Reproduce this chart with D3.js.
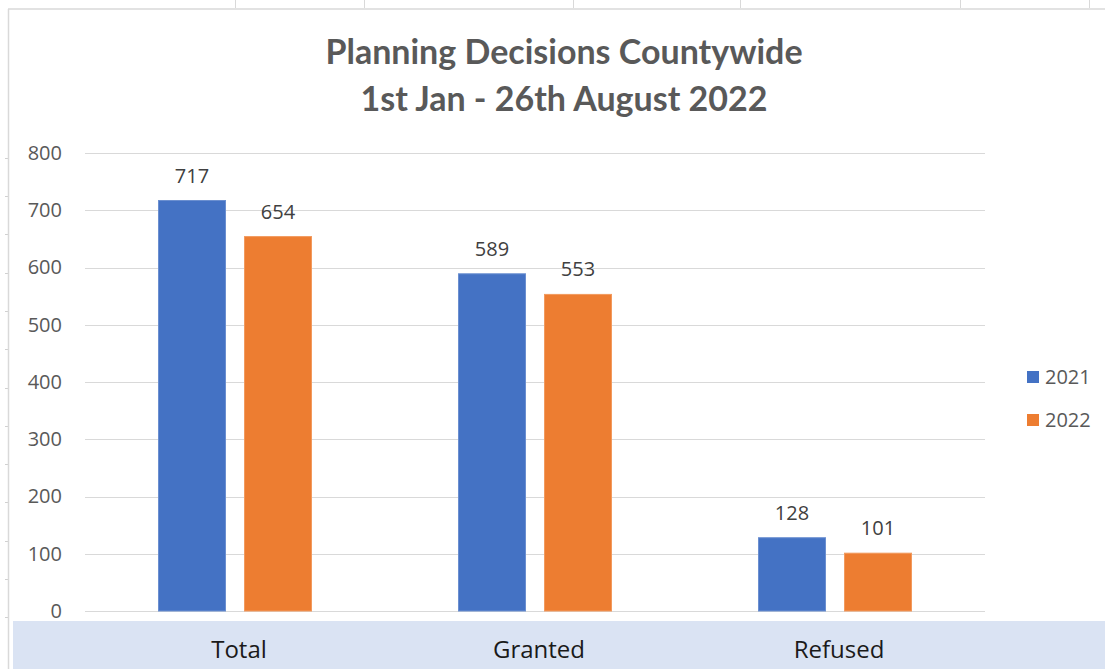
<!DOCTYPE html>
<html>
<head>
<meta charset="utf-8">
<script src="https://cdn.jsdelivr.net/npm/d3@7"></script>
<style>
  html, body { margin: 0; padding: 0; background: #fff; }
  svg { display: block; }
</style>
</head>
<body>
<svg id="chart" width="1105" height="669"></svg>
<script>
const categories = ["Total", "Granted", "Refused"];
const seriesNames = ["2021", "2022"];
const values2021 = [717, 589, 128];
const values2022 = [654, 553, 101];
const yTicks = [0, 100, 200, 300, 400, 500, 600, 700, 800];
const titleLines = ["Planning Decisions Countywide", "1st Jan - 26th August 2022"];

const colors = ["#4472C4", "#ED7D31"];
const strokes = ["#6b8fd0", "#f29a5e"];
const font = "'Open Sans', 'Liberation Sans', sans-serif";
const titleFont = "Lato, 'Open Sans', sans-serif";

const svg = d3.select("#chart");
const W = 1105, H = 669;

// spreadsheet background artifacts
const colMarks = [235, 364, 573, 740, 960, 1089];
svg.selectAll("line.colmark").data(colMarks).join("line")
  .attr("x1", d => d + 0.5).attr("x2", d => d + 0.5).attr("y1", 0).attr("y2", 8)
  .attr("stroke", "#d9d9d9").attr("stroke-width", 1);
const rowMarks = d3.range(13).map(i => 157.7 + i * 38.3);
svg.selectAll("line.rowmark").data(rowMarks).join("line")
  .attr("x1", 5).attr("x2", 8).attr("y1", d => Math.round(d) + 0.5).attr("y2", d => Math.round(d) + 0.5)
  .attr("stroke", "#d0d0d0");

// chart frame
svg.append("line").attr("x1", 8.5).attr("x2", 8.5).attr("y1", 9).attr("y2", H).attr("stroke", "#d9d9d9").attr("stroke-width", 1.5);
svg.append("line").attr("x1", 8).attr("x2", W).attr("y1", 9).attr("y2", 9).attr("stroke", "#d9d9d9").attr("stroke-width", 1.5);

// bottom band
svg.append("rect").attr("x", 13).attr("y", 621).attr("width", W - 13).attr("height", H - 621).attr("fill", "#DAE3F3");

// scales
const x = d3.scaleBand().domain(categories).range([85, 985]).paddingInner(0).paddingOuter(0);
const y = d3.scaleLinear().domain([0, 800]).range([611, 153]);
const barW = 67, gap = 19;
const xSub = d3.scaleOrdinal().domain(seriesNames).range([-gap / 2 - barW, gap / 2]);

// gridlines
svg.append("g").selectAll("line").data(yTicks).join("line")
  .attr("x1", 85).attr("x2", 985)
  .attr("y1", d => Math.round(y(d)) + 0.5).attr("y2", d => Math.round(y(d)) + 0.5)
  .attr("stroke", "#d9d9d9").attr("stroke-width", 1);

// y axis labels
const yAxis = d3.axisLeft(y).tickValues(yTicks).tickSize(0).tickPadding(0);
const ga = svg.append("g").attr("transform", "translate(62,0)").call(yAxis);
ga.select(".domain").remove();
ga.selectAll("text").attr("font-family", font).attr("font-size", 20).attr("fill", "#595959");

// bars
const series = [values2021, values2022];
series.forEach((vals, si) => {
  const g = svg.append("g");
  g.selectAll("rect").data(categories).join("rect")
    .attr("x", (c) => x(c) + x.bandwidth() / 2 + xSub(seriesNames[si]))
    .attr("y", (c, i) => y(vals[i]))
    .attr("width", barW)
    .attr("height", (c, i) => y(0) - y(vals[i]))
    .attr("fill", colors[si])
    .attr("stroke", strokes[si]).attr("stroke-width", 1);
  g.selectAll("text").data(categories).join("text")
    .attr("x", (c) => x(c) + x.bandwidth() / 2 + xSub(seriesNames[si]) + barW / 2)
    .attr("y", (c, i) => y(vals[i]) - 18)
    .attr("text-anchor", "middle")
    .attr("font-family", font).attr("font-size", 20).attr("fill", "#404040")
    .text((c, i) => vals[i]);
});

// category labels
svg.append("g").selectAll("text").data(categories).join("text")
  .attr("x", c => x(c) + x.bandwidth() / 2 + 4)
  .attr("y", 658)
  .attr("text-anchor", "middle")
  .attr("font-family", font).attr("font-size", 24).attr("fill", "#1a1a1a")
  .text(c => c);

// title
svg.append("g").selectAll("text").data(titleLines).join("text")
  .attr("x", 564)
  .attr("y", (d, i) => 64 + i * 47)
  .attr("text-anchor", "middle")
  .attr("font-family", titleFont).attr("font-weight", "bold").attr("font-size", 34).attr("fill", "#595959")
  .text(d => d);

// legend
const lg = svg.append("g").selectAll("g").data(seriesNames).join("g")
  .attr("transform", (d, i) => `translate(1027,${371 + i * 43})`);
lg.append("rect").attr("width", 12).attr("height", 12).attr("fill", (d, i) => colors[i]);
lg.append("text").attr("x", 18).attr("y", 6).attr("dy", "0.35em")
  .attr("font-family", font).attr("font-size", 20).attr("fill", "#595959")
  .text(d => d);
</script>
</body>
</html>
